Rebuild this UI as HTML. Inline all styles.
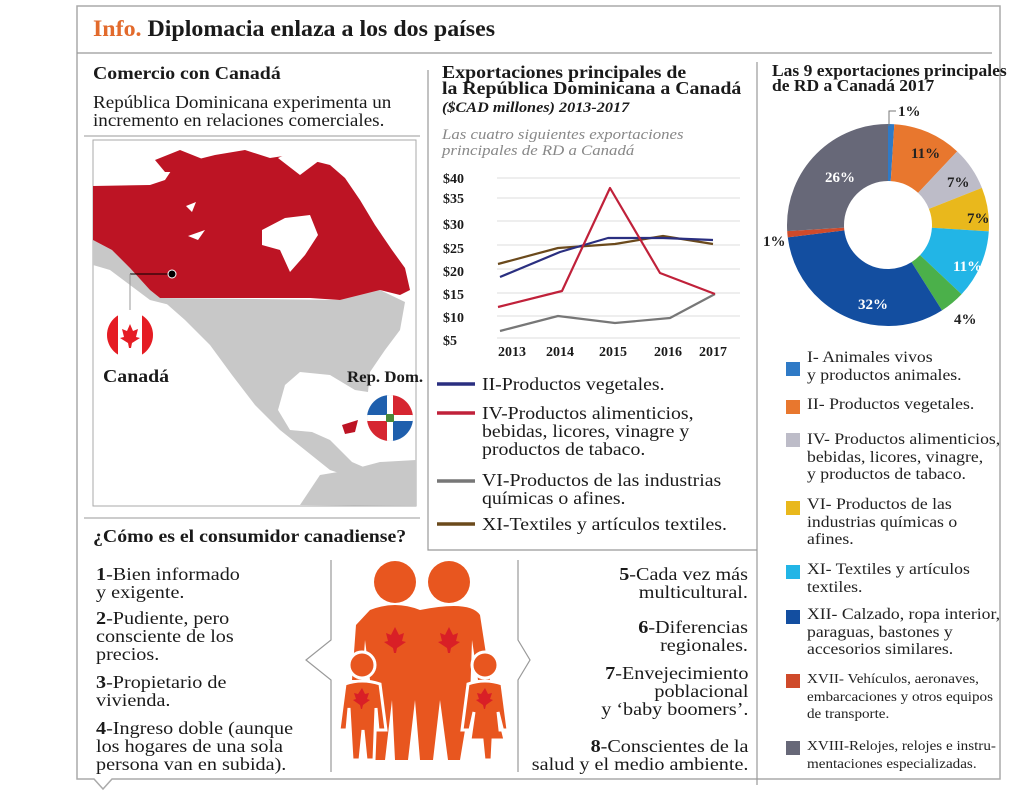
<!DOCTYPE html>
<html><head><meta charset="utf-8"><style>
body{margin:0;width:1024px;height:793px;background:#fff;position:relative;overflow:hidden;font-family:"Liberation Serif",serif;color:#1a1a1a}
.a{position:absolute;white-space:nowrap;transform-origin:left top}
.r{transform-origin:right top}
.b{font-weight:bold}
.t17{font-size:18px;line-height:18px}
.leg{font-size:15.5px;line-height:17.5px;color:#222;transform:scaleX(1.14)}
.sq{position:absolute;width:14px;height:14px}
</style></head><body>
<svg class="a" style="left:0;top:0" width="1024" height="793">
 <path d="M77,6 H1000 V779 H112 L103,789 L94,779 H77 Z" fill="none" stroke="#aaa" stroke-width="1.5"/>
 <line x1="77" y1="53" x2="992" y2="53" stroke="#999" stroke-width="1.2"/>
 <line x1="84" y1="136" x2="420" y2="136" stroke="#999"/>
 <line x1="84" y1="518" x2="420" y2="518" stroke="#999"/>
 <path d="M428,70 V550 H757" fill="none" stroke="#999" stroke-width="1.2"/>
 <line x1="757" y1="62" x2="757" y2="785" stroke="#999" stroke-width="1.2"/>
 <rect x="93" y="140" width="323" height="366" fill="#fff" stroke="#aaa"/>
 <path d="M160,298 L340,300 L380,290 L405,302 L400,330 L385,350 L370,372 L368,392 L355,390 L330,375 L300,372 L285,385 L278,410 L290,430 L312,432 L330,440 L352,462 L375,472 L383,490 L360,480 L330,470 L305,450 L280,430 L255,405 L232,375 L210,345 L185,320 Z" fill="#c8c8c8"/>
 <path d="M300,505 L320,475 L350,470 L380,462 L416,460 L416,506 Z" fill="#c8c8c8"/>
 <path d="M93,240 L112,250 L130,268 L150,290 L160,298 L175,300 L170,305 L150,300 L130,285 L110,270 L93,265 Z" fill="#c8c8c8"/>
 <path d="M93,186 L150,185 L165,180 L175,165 L195,160 L215,155 L245,150 L270,158 L290,155 L310,160 L330,165 L345,178 L360,200 L375,225 L392,250 L405,268 L410,290 L400,295 L380,290 L340,300 L310,298 L160,298 L150,290 L130,268 L112,250 L93,240 Z" fill="#bd1424"/>
 <path d="M155,160 L180,150 L205,160 L190,172 L165,172 Z" fill="#bd1424"/>
 <path d="M262,230 L285,218 L310,215 L318,235 L305,255 L290,272 L280,250 L262,245 Z" fill="#fff"/>
 <path d="M278,158 L300,148 L320,160 L300,175 Z" fill="#fff"/>
 <path d="M186,206 L196,202 L192,212 Z M188,236 L205,230 L198,240 Z" fill="#fff"/>
 <path d="M342,425 L358,420 L355,432 L345,434 Z" fill="#bd1424"/>
 <line x1="130" y1="274" x2="172" y2="274" stroke="#000"/>
 <line x1="130" y1="274" x2="130" y2="310" stroke="#999"/>
 <circle cx="172" cy="274" r="4" fill="#000" stroke="#fff"/>
 <clipPath id="c1"><circle cx="130" cy="335" r="23"/></clipPath>
 <g clip-path="url(#c1)"><rect x="105" y="310" width="50" height="50" fill="#fff"/><rect x="105" y="310" width="13" height="50" fill="#e51c23"/><rect x="142" y="310" width="13" height="50" fill="#e51c23"/>
 <path d="M130,324 L133,331 L138,329 L136,337 L140,338 L132,343 L131,348 L129,348 L128,343 L120,338 L124,337 L122,329 L127,331 Z" fill="#e51c23"/></g>
 <clipPath id="c2"><circle cx="390" cy="418" r="23"/></clipPath>
 <g clip-path="url(#c2)"><rect x="365" y="393" width="25" height="25" fill="#1f5fad"/><rect x="390" y="393" width="25" height="25" fill="#d62631"/><rect x="365" y="418" width="25" height="25" fill="#d62631"/><rect x="390" y="418" width="25" height="25" fill="#1f5fad"/><rect x="365" y="415" width="50" height="6" fill="#fff"/><rect x="387" y="393" width="6" height="50" fill="#fff"/><rect x="386" y="414" width="8" height="8" fill="#4a8a3a"/></g>
 <g stroke="#ddd" stroke-width="1">
  <line x1="497" y1="178" x2="740" y2="178"/><line x1="497" y1="198" x2="740" y2="198"/><line x1="497" y1="221" x2="740" y2="221"/><line x1="497" y1="245" x2="740" y2="245"/><line x1="497" y1="269" x2="740" y2="269"/><line x1="497" y1="293" x2="740" y2="293"/><line x1="497" y1="316" x2="740" y2="316"/><line x1="497" y1="338" x2="740" y2="338"/>
 </g>
 <g fill="none" stroke-width="2.2" stroke-linejoin="round">
  <polyline points="500,331 558,316 615,323 670,318 715,294" stroke="#777"/>
  <polyline points="498,264 558,248 615,244 663,236 713,244" stroke="#6b4a1c"/>
  <polyline points="500,277 560,252 608,238 663,238 713,240" stroke="#2a2f80"/>
  <polyline points="498,307 562,291 610,188 660,273 715,294" stroke="#c0213a"/>
 </g>
 <g font-family="Liberation Serif" font-weight="bold" font-size="14" fill="#1a1a1a" text-anchor="middle">
  <text x="512" y="356">2013</text><text x="560" y="356">2014</text><text x="613" y="356">2015</text><text x="668" y="356">2016</text><text x="713" y="356">2017</text>
 </g>
 <g stroke-width="3.5"><line x1="437" y1="384" x2="475" y2="384" stroke="#2a2f80"/><line x1="437" y1="413" x2="475" y2="413" stroke="#c0213a"/><line x1="437" y1="481" x2="475" y2="481" stroke="#777"/><line x1="437" y1="524" x2="475" y2="524" stroke="#6b4a1c"/></g>
 <g transform="rotate(-90 888 225)" fill="none" stroke-width="57">
  <circle cx="888" cy="225" r="72.5" stroke="#2f7ac6" stroke-dasharray="4.56 455.5" stroke-dashoffset="0"/>
  <circle cx="888" cy="225" r="72.5" stroke="#e8772e" stroke-dasharray="50.1 455.5" stroke-dashoffset="-4.56"/>
  <circle cx="888" cy="225" r="72.5" stroke="#bdbcc8" stroke-dasharray="31.9 455.5" stroke-dashoffset="-54.66"/>
  <circle cx="888" cy="225" r="72.5" stroke="#e9b81c" stroke-dasharray="31.9 455.5" stroke-dashoffset="-86.56"/>
  <circle cx="888" cy="225" r="72.5" stroke="#22b5e6" stroke-dasharray="50.1 455.5" stroke-dashoffset="-118.46"/>
  <circle cx="888" cy="225" r="72.5" stroke="#4bb04a" stroke-dasharray="18.2 455.5" stroke-dashoffset="-168.56"/>
  <circle cx="888" cy="225" r="72.5" stroke="#134ea0" stroke-dasharray="145.8 455.5" stroke-dashoffset="-186.76"/>
  <circle cx="888" cy="225" r="72.5" stroke="#cf4a2a" stroke-dasharray="4.56 455.5" stroke-dashoffset="-332.56"/>
  <circle cx="888" cy="225" r="72.5" stroke="#676878" stroke-dasharray="118.4 455.5" stroke-dashoffset="-337.12"/>
 </g>
 <path d="M889,126 V111 H896" fill="none" stroke="#777"/>
 <g font-family="Liberation Serif" font-weight="bold" font-size="15">
  <text x="898" y="116" fill="#222">1%</text>
  <text x="911" y="158" fill="#222">11%</text>
  <text x="947" y="187" fill="#222">7%</text>
  <text x="967" y="223" fill="#222">7%</text>
  <text x="953" y="271" fill="#fff">11%</text>
  <text x="954" y="324" fill="#222">4%</text>
  <text x="858" y="309" fill="#fff">32%</text>
  <text x="763" y="246" fill="#222">1%</text>
  <text x="825" y="182" fill="#fff">26%</text>
 </g>
 <g fill="none" stroke="#999" stroke-width="1.2">
  <path d="M331,560 V640 L306,660 L331,680 V772"/>
  <path d="M518,560 V640 L530,660 L518,680 V772"/>
 </g>
 <g fill="#e8561f">
  <circle cx="395" cy="582" r="21"/><circle cx="449" cy="582" r="21"/>
  <path d="M370,610 Q395,600 420,610 Q470,600 480,615 L490,680 L478,680 L472,640 L470,700 L460,760 L448,760 L440,700 L433,760 L420,760 L415,700 L408,760 L395,760 L392,700 L385,760 L372,760 L370,680 L365,640 L362,680 L352,680 L356,625 Z"/>
  <circle cx="362" cy="665" r="13" stroke="#fff" stroke-width="3"/>
  <path d="M345,684 Q362,678 380,684 L386,730 L378,730 L376,708 L374,760 L366,760 L363,730 L360,760 L352,760 L349,708 L347,730 L339,730 Z" stroke="#fff" stroke-width="3"/>
  <circle cx="485" cy="665" r="13" stroke="#fff" stroke-width="3"/>
  <path d="M468,684 Q485,678 502,684 L508,730 L500,730 L498,712 L505,740 L493,740 L492,760 L484,760 L482,740 L470,740 L474,712 L470,730 L462,730 Z" stroke="#fff" stroke-width="3"/>
 </g>
 <g fill="#d91f26"><path d="M395,627 l4,8 5,-2 -2,8 4,1 -9,6 -1,5 h-2 l-1,-5 -9,-6 4,-1 -2,-8 5,2z"/><path d="M449,627 l4,8 5,-2 -2,8 4,1 -9,6 -1,5 h-2 l-1,-5 -9,-6 4,-1 -2,-8 5,2z"/><path d="M362,688 l3,6 4,-1 -2,6 3,1 -7,5 -1,4 h-1 l-1,-4 -7,-5 3,-1 -2,-6 4,1z"/><path d="M485,688 l3,6 4,-1 -2,6 3,1 -7,5 -1,4 h-1 l-1,-4 -7,-5 3,-1 -2,-6 4,1z"/></g>
</svg>

<div class="a b" style="left:93px;top:16px;font-size:23px;transform:scaleX(1.04)"><span style="color:#e26a2c">Info.</span> Diplomacia enlaza a los dos países</div>
<div class="a b" style="left:93px;top:63px;font-size:18px;transform:scaleX(1.1)">Comercio con Canadá</div>
<div class="a" style="left:93px;top:93px;font-size:18px;line-height:18px;transform:scaleX(1.06)">República Dominicana experimenta un<br>incremento en relaciones comerciales.</div>
<div class="a b" style="left:103px;top:366px;font-size:18px;transform:scaleX(1.1)">Canadá</div>
<div class="a b" style="left:347px;top:369px;font-size:16px;transform:scaleX(1.05)">Rep. Dom.</div>

<div class="a b" style="left:442px;top:64px;font-size:18px;line-height:16px;transform:scaleX(1.1)">Exportaciones principales de<br>la República Dominicana a Canadá</div>
<div class="a b" style="left:442px;top:100px;font-size:15px;font-style:italic;transform:scaleX(1.08)">($CAD millones) 2013-2017</div>
<div class="a" style="left:442px;top:127px;font-size:15px;line-height:16px;font-style:italic;color:#888;transform:scaleX(1.12)">Las cuatro siguientes exportaciones<br>principales de RD a Canadá</div>
<div class="a b" style="left:443px;top:168px;font-size:14px;line-height:23.2px">$40<br><span style="position:relative;top:-3px">$35</span><br>$30<br>$25<br>$20<br>$15<br>$10<br>$5</div>
<div class="a t17" style="left:482px;top:375px;transform:scaleX(1.1)">II-Productos vegetales.</div>
<div class="a t17" style="left:482px;top:404px;transform:scaleX(1.1)">IV-Productos  alimenticios,<br>bebidas, licores, vinagre y<br>productos de tabaco.</div>
<div class="a t17" style="left:482px;top:471px;transform:scaleX(1.1)">VI-Productos  de las industrias<br>químicas o afines.</div>
<div class="a t17" style="left:482px;top:515px;transform:scaleX(1.1)">XI-Textiles y artículos textiles.</div>

<div class="a b" style="left:772px;top:63px;font-size:16.5px;line-height:15px;transform:scaleX(1.06)">Las 9 exportaciones principales<br>de RD a Canadá 2017</div>

<div class="sq" style="left:786px;top:362px;background:#2f7ac6"></div>
<div class="a leg" style="left:807px;top:349px">I- Animales vivos<br>y productos animales.</div>
<div class="sq" style="left:786px;top:400px;background:#e8772e"></div>
<div class="a leg" style="left:807px;top:396px">II- Productos vegetales.</div>
<div class="sq" style="left:786px;top:433px;background:#bdbcc8"></div>
<div class="a leg" style="left:807px;top:431px">IV- Productos alimenticios,<br>bebidas, licores, vinagre,<br>y productos de tabaco.</div>
<div class="sq" style="left:786px;top:501px;background:#e9b81c"></div>
<div class="a leg" style="left:807px;top:496px">VI- Productos de las<br>industrias químicas o<br>afines.</div>
<div class="sq" style="left:786px;top:565px;background:#22b5e6"></div>
<div class="a leg" style="left:807px;top:561px">XI- Textiles y artículos<br>textiles.</div>
<div class="sq" style="left:786px;top:610px;background:#134ea0"></div>
<div class="a leg" style="left:807px;top:606px">XII- Calzado, ropa interior,<br>paraguas, bastones y<br>accesorios similares.</div>
<div class="sq" style="left:786px;top:674px;background:#cf4a2a"></div>
<div class="a leg" style="left:807px;top:671px;font-size:14px;transform:scaleX(1.08)">XVII- Vehículos, aeronaves,<br>embarcaciones y otros equipos<br>de transporte.</div>
<div class="sq" style="left:786px;top:741px;background:#676878"></div>
<div class="a leg" style="left:807px;top:738px;font-size:14px;transform:scaleX(1.08)">XVIII-Relojes, relojes e instru-<br>mentaciones especializadas.</div>

<div class="a b" style="left:93px;top:526px;font-size:18px;transform:scaleX(1.1)">¿Cómo es el consumidor canadiense?</div>
<div class="a t17" style="left:96px;top:565px;transform:scaleX(1.12)"><b>1</b>-Bien informado<br>y exigente.</div>
<div class="a t17" style="left:96px;top:609px;transform:scaleX(1.12)"><b>2</b>-Pudiente, pero<br>consciente de los<br>precios.</div>
<div class="a t17" style="left:96px;top:673px;transform:scaleX(1.12)"><b>3</b>-Propietario de<br>vivienda.</div>
<div class="a t17" style="left:96px;top:719px;transform:scaleX(1.12)"><b>4</b>-Ingreso doble (aunque<br>los hogares de una sola<br>persona van en subida).</div>

<div class="a r t17" style="right:276px;top:565px;text-align:right;transform:scaleX(1.12)"><b>5</b>-Cada vez más<br>multicultural.</div>
<div class="a r t17" style="right:276px;top:618px;text-align:right;transform:scaleX(1.12)"><b>6</b>-Diferencias<br>regionales.</div>
<div class="a r t17" style="right:276px;top:664px;text-align:right;transform:scaleX(1.12)"><b>7</b>-Envejecimiento<br>poblacional<br>y ‘baby boomers’.</div>
<div class="a r t17" style="right:276px;top:737px;text-align:right;transform:scaleX(1.12)"><b>8</b>-Conscientes de la<br>salud y el medio ambiente.</div>
</body></html>
